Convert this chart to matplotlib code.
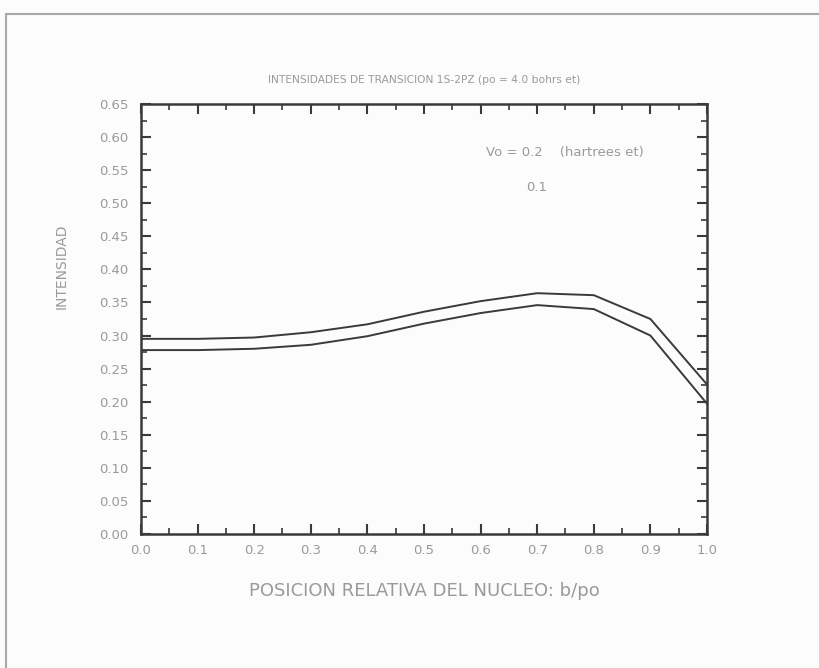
import matplotlib
matplotlib.use('Agg')
import matplotlib.pyplot as plt
from matplotlib.patches import Rectangle
from matplotlib.ticker import MultipleLocator

plt.rcParams['font.family'] = ['DejaVu Sans']

# b/po and transition intensities for the two well depths
b_po = [0.0, 0.1, 0.2, 0.3, 0.4, 0.5, 0.6, 0.7, 0.8, 0.9, 1.0]
int_v02 = [0.295, 0.295, 0.297, 0.305, 0.317, 0.336, 0.352, 0.364, 0.361, 0.325, 0.226]
int_v01 = [0.278, 0.278, 0.280, 0.286, 0.299, 0.318, 0.334, 0.346, 0.340, 0.300, 0.197]

TXT = '#9a9a9a'
INK = '#3a3a3a'

fig = plt.figure(figsize=(8.2, 6.68), dpi=100, facecolor='#fcfcfc')
# scanned page border
fig.patches.append(Rectangle((6/820, -0.1), 1.1, 1 - 14/668 + 0.1, transform=fig.transFigure,
                             fill=False, edgecolor='#a8a8a8', linewidth=1.5))

ax = fig.add_axes([141/820, 1 - 534/668, 566/820, 430/668])
ax.set_facecolor('#fcfcfc')
ax.plot(b_po, int_v02, color=INK, linewidth=1.4)
ax.plot(b_po, int_v01, color=INK, linewidth=1.4)

ax.set_xlim(0, 1.0)
ax.set_ylim(0, 0.65)
ax.xaxis.set_major_locator(MultipleLocator(0.1))
ax.xaxis.set_minor_locator(MultipleLocator(0.05))
ax.yaxis.set_major_locator(MultipleLocator(0.05))
ax.yaxis.set_minor_locator(MultipleLocator(0.025))
ax.set_xticklabels([f'{v:.1f}' for v in ax.get_xticks()])
ax.set_yticklabels([f'{v:.2f}' for v in ax.get_yticks()])
ax.tick_params(which='both', direction='in', top=True, right=True, color=INK,
               labelcolor=TXT, labelsize=9.5)
ax.tick_params(which='major', length=7, width=1.5)
ax.tick_params(axis='y', which='major', pad=9)
ax.tick_params(axis='x', which='major', pad=7)
ax.tick_params(which='minor', length=4, width=1.2)
for s in ax.spines.values():
    s.set_color(INK)
    s.set_linewidth(1.8)

ax.set_title('INTENSIDADES DE TRANSICION 1S-2PZ (po = 4.0 bohrs et)',
             fontsize=7.7, color=TXT, pad=15)
ax.set_xlabel('POSICION RELATIVA DEL NUCLEO: b/po', fontsize=13, color=TXT, labelpad=18)
ax.set_ylabel('INTENSIDAD', fontsize=10, color=TXT)
ax.yaxis.set_label_coords(-0.127, 0.623)

ax.text(0.61, 0.577, 'Vo = 0.2    (hartrees et)', fontsize=9.5, color=TXT,
        transform=ax.transData, va='center')
ax.text(0.68, 0.524, '0.1', fontsize=9.5, color=TXT, transform=ax.transData, va='center')

fig.savefig('out.png', dpi=100, facecolor=fig.get_facecolor())
